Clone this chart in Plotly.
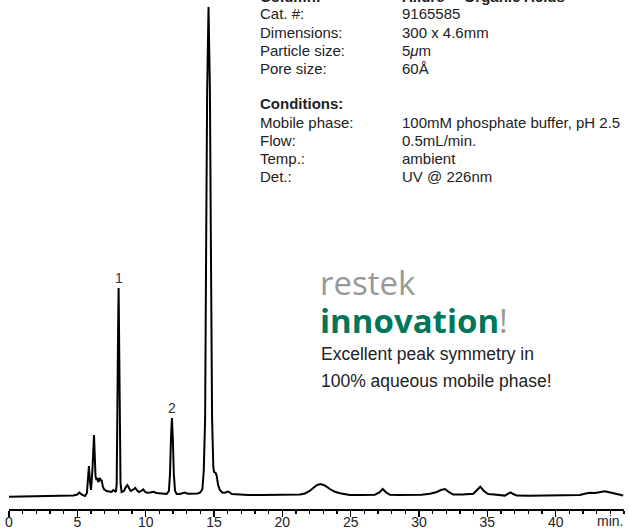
import plotly.graph_objects as go

# ---------------- data ----------------
time_min = [
    0.0, 1.0, 2.0, 3.0, 4.0, 4.7, 5.0, 5.15, 5.3, 5.56, 5.7, 5.78, 5.85, 5.92, 6.0,
    6.1, 6.17, 6.22, 6.27, 6.33, 6.4, 6.48, 6.54, 6.6, 6.66, 6.72, 6.78, 6.86, 6.94,
    7.14, 7.4, 7.5, 7.63, 7.72, 7.82, 7.88, 7.94, 7.98, 8.02, 8.06, 8.1, 8.16, 8.24,
    8.41, 8.55, 8.66, 8.78, 8.9, 9.05, 9.24, 9.38, 9.51, 9.68, 9.83, 9.97, 10.12,
    10.35, 10.56, 10.8, 11.05, 11.3, 11.53, 11.7, 11.78, 11.85, 11.92, 11.99, 12.06,
    12.15, 12.27, 12.5, 12.87, 13.1, 13.48, 13.8, 14.0, 14.15, 14.25, 14.35, 14.42,
    14.5, 14.6, 14.7, 14.78, 14.86, 14.95, 15.0, 15.12, 15.2, 15.3, 15.43, 15.6, 15.8,
    16.0, 16.1, 16.3, 16.8, 17.5, 18.5, 19.5, 20.56, 21.3, 21.65, 22.0, 22.26, 22.55,
    22.8, 23.1, 23.48, 23.8, 24.21, 24.6, 24.94, 25.8, 26.77, 27.1, 27.34, 27.6,
    27.87, 28.5, 29.33, 30.2, 30.8, 31.3, 31.6, 31.9, 32.2, 32.5, 33.2, 33.97, 34.25,
    34.48, 34.75, 35.06, 35.5, 35.92, 36.28, 36.5, 36.7, 36.9, 37.14, 38.0, 38.84,
    40.0, 41.0, 41.77, 42.2, 42.5, 42.87, 43.2, 43.6, 44.0, 44.5, 44.94,
]
signal = [
    12.3, 12.5, 12.8, 13.2, 13.5, 13.6, 14.5, 16.5, 14.5, 13.0, 16.0, 30.0, 43.0, 28.0, 19.0,
    38.0, 66.0, 74.0, 55.0, 33.0, 29.0, 31.0, 27.0, 30.0, 31.0, 28.0, 29.0, 23.0, 20.0,
    18.0, 17.0, 17.0, 19.0, 17.5, 17.0, 25.0, 85.0, 175.0, 221.0, 175.0, 85.0, 26.0, 17.0,
    18.0, 22.0, 24.0, 21.0, 18.0, 19.0, 21.0, 18.5, 17.0, 18.0, 19.5, 17.0, 16.3,
    16.5, 17.2, 16.0, 15.7, 15.3, 15.0, 18.0, 35.0, 70.0, 91.0, 70.0, 35.0,
    18.0, 15.0, 15.0, 16.5, 15.2, 15.0, 15.5, 16.5, 20.0, 38.0, 90.0, 250.0,
    420.0, 502.0, 420.0, 250.0, 90.0, 42.0, 37.0, 36.0, 33.0, 24.0, 19.0, 16.5, 16.3,
    17.5, 17.0, 15.0, 14.3, 14.0, 14.0, 14.0, 14.0, 14.5, 15.5, 18.0, 21.0, 24.0,
    25.0, 23.5, 20.0, 17.5, 15.7, 14.5, 14.0, 14.0, 14.3, 16.5, 20.0, 16.5,
    14.2, 14.0, 14.0, 14.3, 15.2, 17.0, 19.0, 20.0, 16.8, 14.5, 14.5, 15.2, 19.0,
    22.3, 18.0, 15.0, 14.6, 14.0, 13.4, 15.2, 16.7, 15.0, 13.4, 13.3, 13.3,
    13.5, 13.8, 14.0, 15.5, 16.3, 16.0, 16.8, 17.7, 16.5, 15.0, 13.5,
]

peak_labels = ["1", "2"]
peak_times = [8.02, 11.92]

tick_vals = [0, 5, 10, 15, 20, 25, 30, 35, 40]
tick_text = ["0", "5", "10", "15", "20", "25", "30", "35", "40"]
x_unit = "min."

column_labels = ["Column:", "Cat. #:", "Dimensions:", "Particle size:", "Pore size:"]
column_values = ["Allure™ Organic Acids", "9165585", "300 x 4.6mm", "5<i>μ</i>m", "60Å"]
conditions_title = "Conditions:"
condition_labels = ["Mobile phase:", "Flow:", "Temp.:", "Det.:"]
condition_values = ["100mM phosphate buffer, pH 2.5", "0.5mL/min.", "ambient", "UV @ 226nm"]

brand_word = "restek"
brand_tag = "innovation"
claim_lines = ["Excellent peak symmetry in", "100% aqueous mobile phase!"]

# ---------------- layout geometry ----------------
W, H = 629, 529
ML, MR, MT, MB = 9, 5, 0, 20
PW, PH = W - ML - MR, H - MT - MB

def px(xp):
    return (xp - ML) / PW

def py(yp):
    return (H - MB - yp) / PH

SANS = "Liberation Sans, Arial, sans-serif"
TXT = "#222222"
GREEN = "#00775A"
GREY = "#999999"

fig = go.Figure()
fig.add_trace(go.Scatter(
    x=time_min, y=signal, mode="lines",
    line=dict(color="black", width=2),
    hoverinfo="skip", showlegend=False,
))

ann = []
# peak labels
for lab, t in zip(peak_labels, peak_times):
    s = signal[time_min.index(t)]
    ann.append(dict(x=t, y=s, xref="x", yref="y", text=lab, showarrow=False,
                    xanchor="center", yanchor="bottom", yshift=0,
                    font=dict(family=SANS, size=14, color="#333333")))

# info block
x_lab, x_val = 258, 400
y0, dy = -4, 18
for i, (l, v) in enumerate(zip(column_labels, column_values)):
    bold = i == 0
    yy = y0 + i * dy
    ann.append(dict(x=px(x_lab), y=py(yy), xref="paper", yref="paper",
                    text=f"<b>{l}</b>" if bold else l, showarrow=False,
                    xanchor="left", yanchor="middle",
                    font=dict(family=SANS, size=15, color=TXT)))
    ann.append(dict(x=px(x_val), y=py(yy), xref="paper", yref="paper",
                    text=f"<b>{v}</b>" if bold else v, showarrow=False,
                    xanchor="left", yanchor="middle",
                    font=dict(family=SANS, size=15, color=TXT)))

ann.append(dict(x=px(x_lab), y=py(104), xref="paper", yref="paper",
                text=f"<b>{conditions_title}</b>", showarrow=False,
                xanchor="left", yanchor="middle",
                font=dict(family=SANS, size=15, color=TXT)))
y1 = 122.5
for i, (l, v) in enumerate(zip(condition_labels, condition_values)):
    yy = y1 + i * dy
    ann.append(dict(x=px(x_lab), y=py(yy), xref="paper", yref="paper",
                    text=l, showarrow=False, xanchor="left", yanchor="middle",
                    font=dict(family=SANS, size=15, color=TXT)))
    ann.append(dict(x=px(x_val), y=py(yy), xref="paper", yref="paper",
                    text=v, showarrow=False, xanchor="left", yanchor="middle",
                    font=dict(family=SANS, size=15, color=TXT)))

# brand block
ann.append(dict(x=px(318), y=py(282), xref="paper", yref="paper",
                text=brand_word, showarrow=False, xanchor="left", yanchor="middle",
                font=dict(family="Open Sans, Lato, sans-serif", size=33, color=GREY)))
ann.append(dict(x=px(318), y=py(320), xref="paper", yref="paper",
                text=f"<b><span style='color:{GREEN}'>{brand_tag}</span></b><span style='color:{GREY}'>!</span>",
                showarrow=False, xanchor="left", yanchor="middle",
                font=dict(family="Open Sans, Lato, sans-serif", size=33, color=GREEN)))
for i, line in enumerate(claim_lines):
    ann.append(dict(x=px(319), y=py(354 + i * 27), xref="paper", yref="paper",
                    text=line, showarrow=False, xanchor="left", yanchor="middle",
                    font=dict(family=SANS, size=17.5, color=TXT)))

# axis unit
ann.append(dict(x=px(610), y=py(520.5), xref="paper", yref="paper",
                text=x_unit, showarrow=False, xanchor="center", yanchor="middle",
                font=dict(family=SANS, size=14, color=TXT)))

fig.update_layout(
    width=W, height=H,
    margin=dict(l=ML, r=MR, t=MT, b=MB, pad=0, autoexpand=False),
    paper_bgcolor="white", plot_bgcolor="white",
    annotations=ann,
    xaxis=dict(
        range=[0, 45], showgrid=False, zeroline=False, automargin=False,
        showline=True, linecolor="black", linewidth=2,
        tickmode="array", tickvals=tick_vals, ticktext=tick_text,
        ticks="outside", ticklen=6, tickwidth=1.5, tickcolor="black",
        ticklabelstandoff=-7,
        tickfont=dict(family=SANS, size=14, color=TXT),
        minor=dict(dtick=1, tick0=0, ticks="outside", ticklen=3,
                   tickwidth=1.2, tickcolor="black"),
        fixedrange=True,
    ),
    yaxis=dict(range=[0, PH], visible=False, fixedrange=True, automargin=False),
    showlegend=False,
)

fig.write_html(
    "out.html",
    config={"displayModeBar": False, "staticPlot": True},
    post_script="document.body.style.margin='0';document.body.style.padding='0';",
)
